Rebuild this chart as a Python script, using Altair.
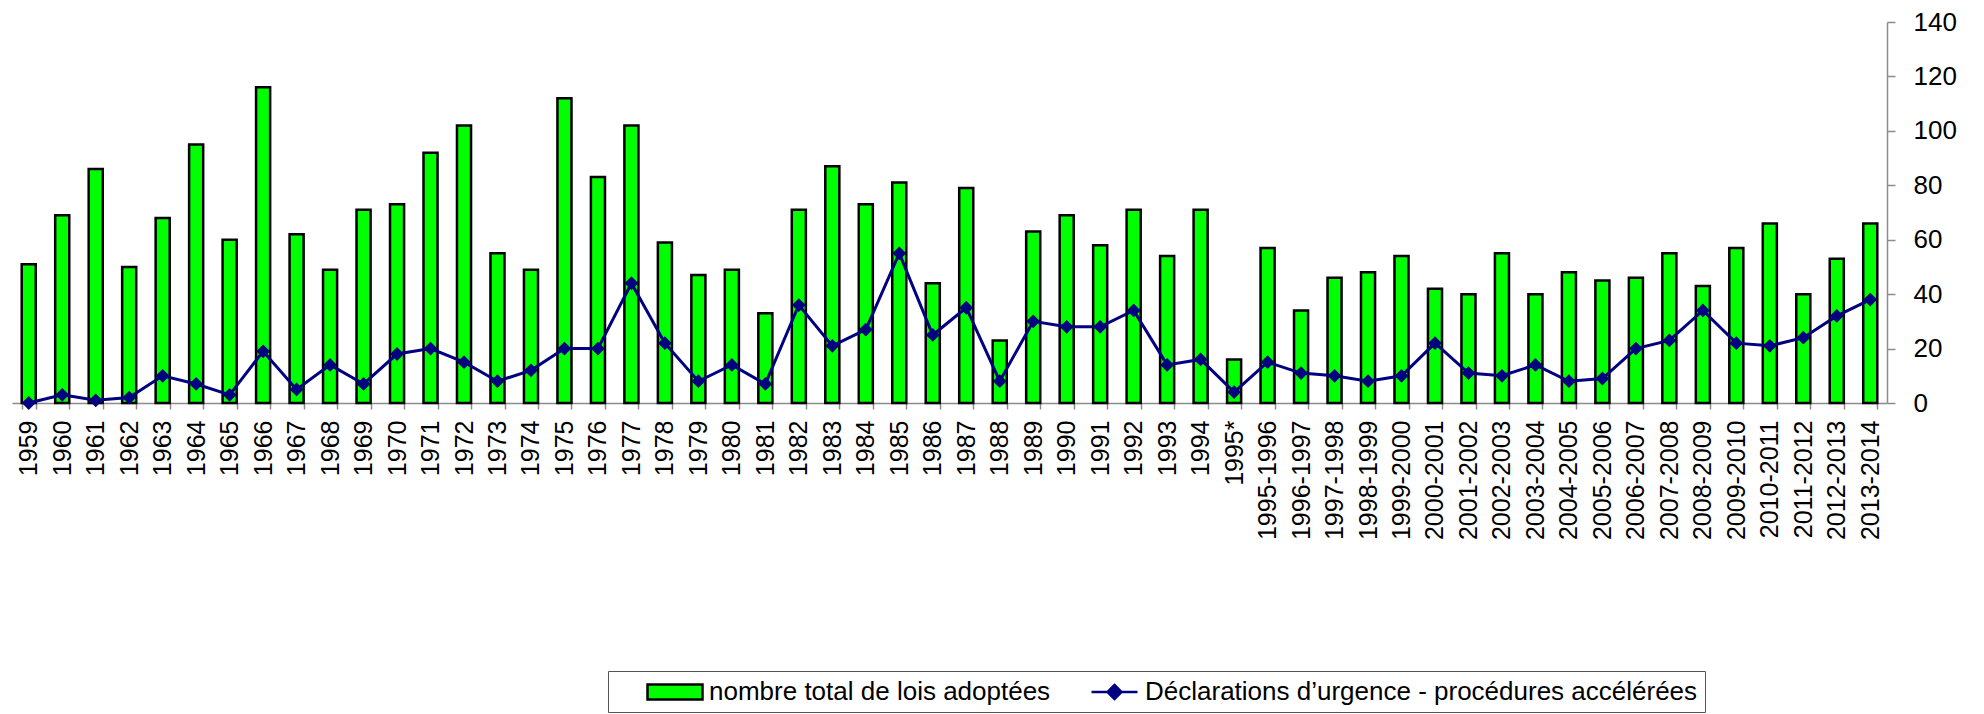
import altair as alt
import pandas as pd

FONT = "Liberation Sans"

categories = [
    "1959", "1960", "1961", "1962", "1963", "1964", "1965", "1966", "1967", "1968",
    "1969", "1970", "1971", "1972", "1973", "1974", "1975", "1976", "1977", "1978",
    "1979", "1980", "1981", "1982", "1983", "1984", "1985", "1986", "1987", "1988",
    "1989", "1990", "1991", "1992", "1993", "1994", "1995*",
    "1995-1996", "1996-1997", "1997-1998", "1998-1999", "1999-2000", "2000-2001",
    "2001-2002", "2002-2003", "2003-2004", "2004-2005", "2005-2006", "2006-2007",
    "2007-2008", "2008-2009", "2009-2010", "2010-2011", "2011-2012", "2012-2013",
    "2013-2014",
]

lois_adoptees = [
    51, 69, 86, 50, 68, 95, 60, 116, 62, 49,
    71, 73, 92, 102, 55, 49, 112, 83, 102, 59,
    47, 49, 33, 71, 87, 73, 81, 44, 79, 23,
    63, 69, 58, 71, 54, 71, 16,
    57, 34, 46, 48, 54, 42, 40, 55, 40, 48,
    45, 46, 55, 43, 57, 66, 40, 53, 66,
]

declarations_urgence = [
    0, 3, 1, 2, 10, 7, 3, 19, 5, 14,
    7, 18, 20, 15, 8, 12, 20, 20, 44, 22,
    8, 14, 7, 36, 21, 27, 55, 25, 35, 8,
    30, 28, 28, 34, 14, 16, 4,
    15, 11, 10, 8, 10, 22, 11, 10, 14, 8,
    9, 20, 23, 34, 22, 21, 24, 32, 38,
]

series_names = [
    "nombre total de lois adoptées",
    "Déclarations d’urgence - procédures accélérées",
]
y_ticks = [0, 20, 40, 60, 80, 100, 120, 140]

df = pd.DataFrame({
    "periode": categories,
    "lois": lois_adoptees,
    "urgence": declarations_urgence,
})
legend_df = pd.DataFrame({"serie": series_names})

GREEN = "#00ff00"
NAVY = "#000080"
AXIS_GRAY = "#8c8c8c"

x_enc = alt.X(
    "periode:N",
    sort=categories,
    scale=alt.Scale(paddingInner=0.58, paddingOuter=0.29),
    axis=alt.Axis(
        title=None,
        labelAngle=270,
        labelFont=FONT,
        labelFontSize=25,
        labelColor="black",
        labelPadding=11,
        labelOverlap=False,
        labelLimit=400,
        domainColor=AXIS_GRAY,
        domainWidth=1.5,
        tickColor=AXIS_GRAY,
        tickWidth=1.5,
        tickSize=6,
        tickBand="extent",
        grid=False,
    ),
)

y_scale = alt.Scale(domain=[0, 140], nice=False)
y_axis = alt.Axis(
    orient="right",
    title=None,
    values=y_ticks,
    grid=False,
    labelFont=FONT,
    labelFontSize=26,
    labelColor="black",
    labelPadding=18,
    domainColor=AXIS_GRAY,
    domainWidth=1.5,
    tickColor=AXIS_GRAY,
    tickWidth=1.5,
    tickSize=8,
)

bars = alt.Chart(df).mark_bar(
    fill=GREEN, stroke="black", strokeWidth=2.5
).encode(
    x=x_enc,
    y=alt.Y("lois:Q", scale=y_scale, axis=y_axis),
)

line = alt.Chart(df).mark_line(color=NAVY, strokeWidth=3).encode(
    x=x_enc,
    y=alt.Y("urgence:Q", scale=y_scale, axis=y_axis),
)

points = alt.Chart(df).mark_point(
    shape="diamond", filled=True, color=NAVY, size=190, opacity=1
).encode(
    x=x_enc,
    y=alt.Y("urgence:Q", scale=y_scale, axis=y_axis),
)

# legend symbol shapes (units of 12.5 px for symbolSize 625)
rect_path = "M-2.2,-0.6H2.2V0.6H-2.2Z"
line_path = "M-1.56,0H2.12M0.28,-0.56L0.84,0L0.28,0.56L-0.28,0Z"

leg = alt.Legend(
    title=None,
    orient="none",
    legendX=596,
    legendY=649,
    direction="horizontal",
    labelFont=FONT,
    labelFontSize=26,
    labelColor="black",
    labelLimit=900,
    labelOffset=20,
    symbolOffset=46,
    symbolSize=625,
    symbolStrokeWidth=2.5,
    symbolFillColor="white",
    symbolStrokeColor="black",
    columnPadding=0,
    padding=7,
    strokeColor="#555555",
    fillColor="white",
)

legend_layer = alt.Chart(legend_df).mark_point(filled=True, opacity=0).encode(
    fill=alt.Fill("serie:N", scale=alt.Scale(domain=series_names, range=[GREEN, NAVY]), legend=leg),
    stroke=alt.Stroke("serie:N", scale=alt.Scale(domain=series_names, range=["black", NAVY]), legend=leg),
    shape=alt.Shape("serie:N", scale=alt.Scale(domain=series_names, range=[rect_path, line_path]), legend=leg),
)

chart = alt.layer(bars, line, points, legend_layer).properties(
    width=1875,
    height=381,
    padding={"left": 4, "top": 14, "right": 89, "bottom": 310},
    autosize=alt.AutoSizeParams(type="none"),
    background="white",
).configure_view(stroke=None)

chart.save("out.html", embed_options={"renderer": "svg", "actions": False})
